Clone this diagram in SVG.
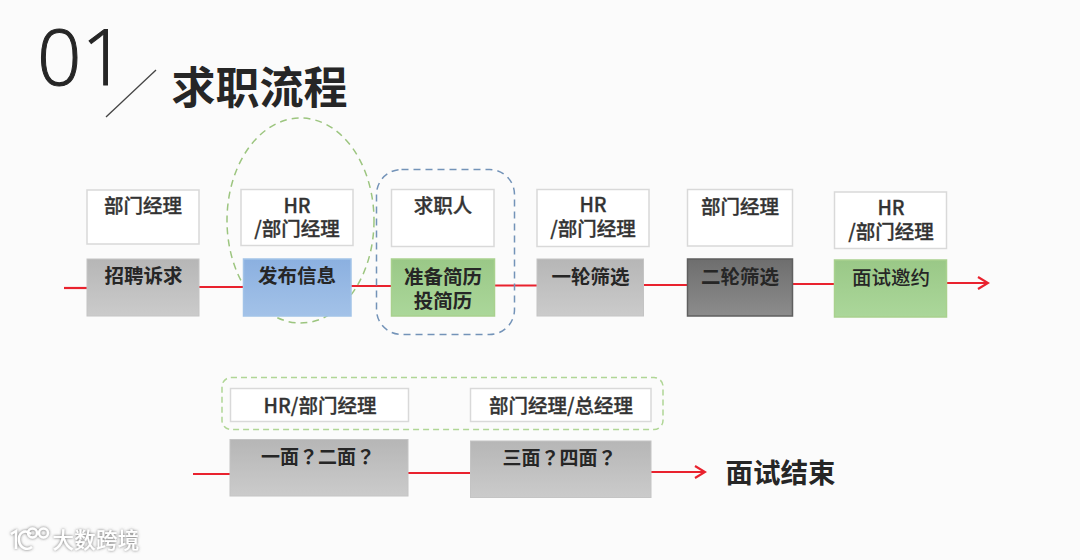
<svg xmlns="http://www.w3.org/2000/svg" width="1080" height="560" viewBox="0 0 1080 560">
<style>
text{font-family:"Noto Sans CJK SC","Noto Sans",sans-serif;fill:#262626;text-anchor:middle}
.role{fill:#fff;stroke:#d9d9d9;stroke-width:1.5}
.rt{font-size:19.500px;font-weight:500;fill:#333;stroke:#333;stroke-width:.3}
.pt{font-size:19.500px;font-weight:700}
.q{font-family:"Noto Sans CJK TC","Noto Sans",sans-serif;font-size:19px}
.grey{fill:url(#gGrey);stroke:#c4c4c4;stroke-width:1}
.blue{fill:url(#gBlue);stroke:#a2c3e8;stroke-width:1.5}
.green{fill:url(#gGreen);stroke:#a9d18e;stroke-width:1.5}
.dark{fill:url(#gDark);stroke:#5f5f5f;stroke-width:1.5}
.wire{stroke:#e9222e;stroke-width:2.200;fill:none}
.dash-g{fill:none;stroke:#9cc57f;stroke-width:1.5;stroke-dasharray:7 5}
.dash-b{fill:none;stroke:#7393b8;stroke-width:1.5;stroke-dasharray:7 5}
.dash-l{fill:none;stroke:#b0d696;stroke-width:1.5;stroke-dasharray:6 4}
.mark{fill:#fff;font-size:21.500px;font-weight:500;letter-spacing:.3px;filter:url(#shadow)}
</style>
<defs>
<linearGradient id="gGrey" x1="0" y1="0" x2="0" y2="1"><stop offset="0" stop-color="#b6b6b6"/><stop offset="1" stop-color="#cbcbcb"/></linearGradient>
<linearGradient id="gBlue" x1="0" y1="0" x2="0" y2="1"><stop offset="0" stop-color="#8bb0e0"/><stop offset="1" stop-color="#a3c2e8"/></linearGradient>
<linearGradient id="gGreen" x1="0" y1="0" x2="0" y2="1"><stop offset="0" stop-color="#9ac887"/><stop offset="1" stop-color="#abd79a"/></linearGradient>
<linearGradient id="gDark" x1="0" y1="0" x2="0" y2="1"><stop offset="0" stop-color="#6e6e6e"/><stop offset="1" stop-color="#8c8c8c"/></linearGradient>
<marker id="arrow" markerUnits="userSpaceOnUse" markerWidth="14" markerHeight="16" refX="12" refY="7" orient="auto"><path d="M2 1 L12 7 L2 13" fill="none" stroke="#e9222e" stroke-width="2.200"/></marker>
<filter id="shadow" x="-10%" y="-20%" width="120%" height="140%"><feDropShadow dx="0" dy="0" stdDeviation="1.400" flood-color="#666" flood-opacity="1"/></filter>
</defs>
<rect width="1080" height="560" fill="#fbfbfb"/>
<g id="heading">
<text x="81.500" y="85" style="font-family:'Open Sans','Noto Sans',sans-serif;font-weight:300;font-size:78px;stroke:#262626;stroke-width:1">01</text>
<line x1="106" y1="117" x2="156" y2="70" stroke="#444" stroke-width="1.300"/>
<text x="259.500" y="104" style="font-size:44px;font-weight:700">求职流程</text>
</g>
<g id="connectors">
<path class="wire" d="M64 288H87"/>
<path class="wire" d="M199 287H243"/>
<path class="wire" d="M351 286H391"/>
<path class="wire" d="M494 285.500H537"/>
<path class="wire" d="M643 285H687"/>
<path class="wire" d="M793 284H834"/>
<path class="wire" d="M947 283H988" marker-end="url(#arrow)"/>
<path class="wire" d="M193 474H230"/>
<path class="wire" d="M408 473H470"/>
<path class="wire" d="M651 472H705" marker-end="url(#arrow)"/>
</g>
<g id="group-publish"><ellipse class="dash-g" cx="300.500" cy="220.500" rx="73.500" ry="102.500"/></g>
<g id="group-seeker"><rect class="dash-b" x="376.500" y="169.500" width="138" height="165" rx="25"/></g>
<g id="group-interview"><rect class="dash-l" x="222" y="377.500" width="441" height="52" rx="9"/></g>
<g id="n1"><rect class="role" x="87" y="190" width="112" height="54"/><text class="rt" x="143" y="213">部门经理</text><rect class="grey" x="87" y="259" width="112" height="57"/><text class="pt" x="143.500" y="283">招聘诉求</text></g>
<g id="n2"><rect class="role" x="241" y="189.500" width="112" height="56"/><text class="rt" x="297" y="213">HR<tspan x="297" dy="23">/部门经理</tspan></text><rect class="blue" x="243.500" y="259" width="107.500" height="57"/><text class="pt" x="297" y="283">发布信息</text></g>
<g id="n3"><rect class="role" x="391.500" y="189.500" width="102.500" height="57"/><text class="rt" x="443" y="213">求职人</text><rect class="green" x="391.500" y="259" width="103" height="57"/><text class="pt" x="443" y="283.500">准备简历<tspan x="443" dy="24">投简历</tspan></text></g>
<g id="n4"><rect class="role" x="537" y="189.500" width="112" height="57"/><text class="rt" x="593" y="212">HR<tspan x="593" dy="24">/部门经理</tspan></text><rect class="grey" x="537" y="259" width="106.500" height="57"/><text class="pt" x="590.500" y="284">一轮筛选</text></g>
<g id="n5"><rect class="role" x="687.500" y="189.500" width="105" height="56.500"/><text class="rt" x="740" y="214">部门经理</text><rect class="dark" x="687.500" y="259" width="105" height="57"/><text class="pt" x="740" y="284">二轮筛选</text></g>
<g id="n6"><rect class="role" x="834.500" y="192" width="112" height="56.500"/><text class="rt" x="891" y="215">HR<tspan x="891" dy="24">/部门经理</tspan></text><rect class="green" x="834.500" y="260" width="112" height="57"/><text class="pt" x="891" y="285" style="font-weight:500">面试邀约</text></g>
<g id="n7"><rect class="role" x="230.500" y="388.500" width="178" height="33"/><text class="rt" x="320" y="413">HR/部门经理</text><rect class="grey" x="230" y="439.500" width="178" height="56.500"/><text class="pt q" x="318" y="464" lang="zh-TW">一面？二面？</text></g>
<g id="n8"><rect class="role" x="470.500" y="388.500" width="180.500" height="33"/><text class="rt" x="561" y="413">部门经理/总经理</text><rect class="grey" x="470.500" y="441" width="180.500" height="56.500"/><text class="pt q" x="559.500" y="465" lang="zh-TW">三面？四面？</text></g>
<g id="end"><text x="780.500" y="483" style="font-size:27.500px;font-weight:700">面试结束</text></g>
<g id="watermark">
<g fill="none" stroke="#fff" stroke-width="2.400" filter="url(#shadow)">
<path d="M11 534L16 531V549"/><path d="M31 534C24 528 18 534 19 541C20 548 27 551 32 547"/>
<circle cx="32.500" cy="533" r="4.500"/><circle cx="43.500" cy="533" r="4.500"/>
</g>
<text class="mark" x="96" y="548">大数跨境</text>
</g>
</svg>
